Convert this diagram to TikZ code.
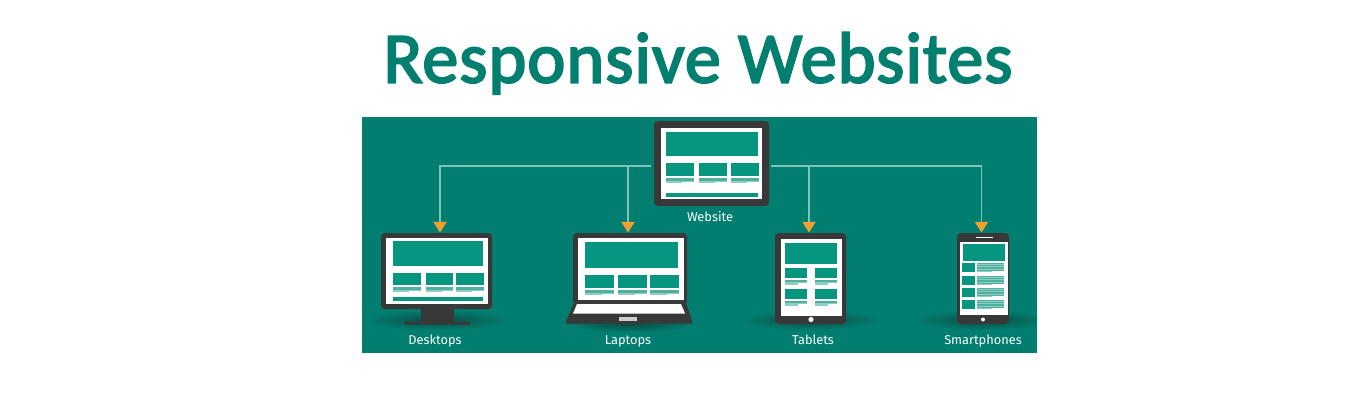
\documentclass[tikz,border=0pt]{standalone}
\usepackage{fontspec}
\setmainfont{Carlito}
\newfontfamily\labelfont{Fira Sans}
\newfontfamily\titlefont[FakeBold=2.8,LetterSpace=1.5]{Carlito}
\usetikzlibrary{arrows.meta}
\definecolor{bgteal}{HTML}{017E6F}
\definecolor{boxteal}{HTML}{069680}
\definecolor{titleteal}{HTML}{027F6F}
\definecolor{frameg}{HTML}{383838}
\definecolor{linel}{HTML}{7FC4B8}
\definecolor{stripe}{HTML}{50B09F}
\definecolor{stripel}{HTML}{8FCFC3}
\definecolor{arrowo}{HTML}{F0A030}
\definecolor{shadowd}{HTML}{0D4A43}
\def\u{0.75pt}
\tikzset{
  x=0.75pt,y=-0.75pt,
  frame/.style={fill=frameg,draw=none,rounded corners=3pt,inner sep=0pt},
  blk/.style={fill=boxteal,draw=none},
  wht/.style={fill=white,draw=none},
  lab/.style={text=white,font=\labelfont\fontsize{9.6pt}{11pt}\selectfont,anchor=base,inner sep=0pt},
  conn/.style={draw=linel,line width=0.85pt,-{Triangle[color=arrowo,length=8pt,width=10pt]}},
}
% x1 x2 y : text stripes below a box
\newcommand\stripes[3]{%
  \fill[stripe] (#1,#3) rectangle (#2,#3+2.8);
  \fill[stripel] (#1,#3+2.8) rectangle (#2,#3+3.6);
  \fill[stripel] (#1,#3+3.6) rectangle ({#1+0.58*(#2-#1)},#3+5.2);
}
\newcommand\shadowat[4]{\shade[inner color=shadowd,outer color=bgteal] (#1,#2) ellipse [x radius=#3,y radius=#4];}
\newcommand\phonerow[1]{%
  \fill[blk] (962,#1) rectangle (975,#1+9);
  \fill[stripe] (976.5,#1) rectangle (1004,#1+8);
  \fill[stripel] (976.5,#1+1.2) rectangle (1004,#1+1.9);
  \fill[stripel] (976.5,#1+3.4) rectangle (1004,#1+4.1);
  \fill[stripel] (976.5,#1+5.6) rectangle (1004,#1+6.3);
  \fill[stripel] (976.5,#1+8) rectangle (992,#1+9.4);
}
\begin{document}
\begin{tikzpicture}
\useasboundingbox (0,0) rectangle (1366,400);
\fill[white] (0,0) rectangle (1366,400);
\node[text=titleteal,font=\titlefont\fontsize{54pt}{60pt}\selectfont,anchor=base,inner sep=0pt] (title) at (698,82.5) {Responsive Websites};
\fill[bgteal] (362,117) rectangle (1037,353);

% shadows
\begin{scope}
\clip (362,117) rectangle (1037,353);
\shadowat{437}{320}{72}{10}
\shadowat{630}{324}{66}{8}
\shadowat{811}{320}{70}{10}
\shadowat{983}{320}{68}{10}
\end{scope}

% Website
\node[frame,minimum width=115*\u,minimum height=85*\u] (web) at (711.5,163.5) {};
\fill[wht] (661,128) rectangle (762,199);
\fill[blk] (666,132) rectangle (758,156);
\fill[blk] (666,163) rectangle (694,176);
\fill[blk] (699,163) rectangle (727,176);
\fill[blk] (731,163) rectangle (759,176);
\stripes{666}{694}{178}\stripes{699}{727}{178}\stripes{731}{759}{178}
\fill[blk] (666,193) rectangle (758,197);
\node[lab] (weblabel) at (710,221) {Website};

% Desktop
\fill[frameg] (421,305) rectangle (454,323);
\fill[frameg,rounded corners=1pt] (404,321.5) rectangle (471,324.5);
\node[frame,minimum width=111*\u,minimum height=76*\u] (desk) at (436.5,271) {};
\fill[wht] (386,238) rectangle (488,304);
\fill[blk] (393,241) rectangle (483,266);
\fill[blk] (393,273) rectangle (421,285);
\fill[blk] (426,273) rectangle (453,285);
\fill[blk] (456,273) rectangle (484,285);
\stripes{393}{421}{287}\stripes{426}{453}{287}\stripes{456}{484}{287}
\fill[blk] (393,297) rectangle (483,301);
\node[lab] (desklabel) at (435,344) {Desktops};

% Laptop
\node[frame,minimum width=114*\u,minimum height=72*\u] (lap) at (630,269) {};
\fill[frameg,rounded corners=1pt] (574,303) -- (565,323.5) -- (693,323.5) -- (686,303) -- cycle;
\fill[wht] (578,238) rectangle (684,300);
\fill[blk] (585,242) rectangle (678,268);
\fill[blk] (585,275) rectangle (614,288);
\fill[blk] (618,275) rectangle (647,288);
\fill[blk] (650,275) rectangle (679,288);
\stripes{585}{614}{290}\stripes{618}{647}{290}\stripes{650}{679}{290}
\fill[wht] (577,304) -- (573,313.5) -- (685,313.5) -- (681,304) -- cycle;
\fill[black!20] (619,317) rectangle (637,321);
\node[lab] (laplabel) at (628,344) {Laptops};

% Tablet
\node[frame,minimum width=71*\u,minimum height=91*\u] (tab) at (810.5,278.5) {};
\fill[wht] (781,239) rectangle (842,316);
\fill[blk] (785,243) rectangle (837,264);
\fill[blk] (785,268) rectangle (807,278);
\fill[blk] (815,268) rectangle (837,278);
\stripes{785}{807}{279.5}\stripes{815}{837}{279.5}
\fill[blk] (785,289) rectangle (807,299);
\fill[blk] (815,289) rectangle (837,299);
\stripes{785}{807}{300.5}\stripes{815}{837}{300.5}
\fill[wht] (811,319.5) circle [radius=2.6];
\node[lab] (tablabel) at (813,344) {Tablets};

% Smartphone
\node[frame,minimum width=52*\u,minimum height=91*\u] (phone) at (983,278.5) {};
\fill[wht] (960,242) rectangle (1008,315);
\fill[blk] (963,244) rectangle (1005,261);
\phonerow{263}\phonerow{276}\phonerow{288}\phonerow{300}
\fill[wht] (976,236.5) rectangle (993,238);
\fill[wht] (983,319.5) circle [radius=2];
\node[lab] (phonelabel) at (983,344) {Smartphones};

% Connectors
\coordinate (hubL) at (651,166);
\coordinate (hubR) at (771,166);
\coordinate (deskin) at (440,232.5);
\coordinate (lapin) at (628,232.5);
\coordinate (tabin) at (809,232.5);
\coordinate (phonein) at (981.5,232.5);
\coordinate (lapdrop) at (628,166);
\coordinate (tabdrop) at (809,166);
\draw[conn] (hubL) -| (deskin);
\draw[conn] (lapdrop) -- (lapin);
\draw[conn] (tabdrop) -- (tabin);
\draw[conn] (hubR) -| (phonein);
\end{tikzpicture}
\end{document}
